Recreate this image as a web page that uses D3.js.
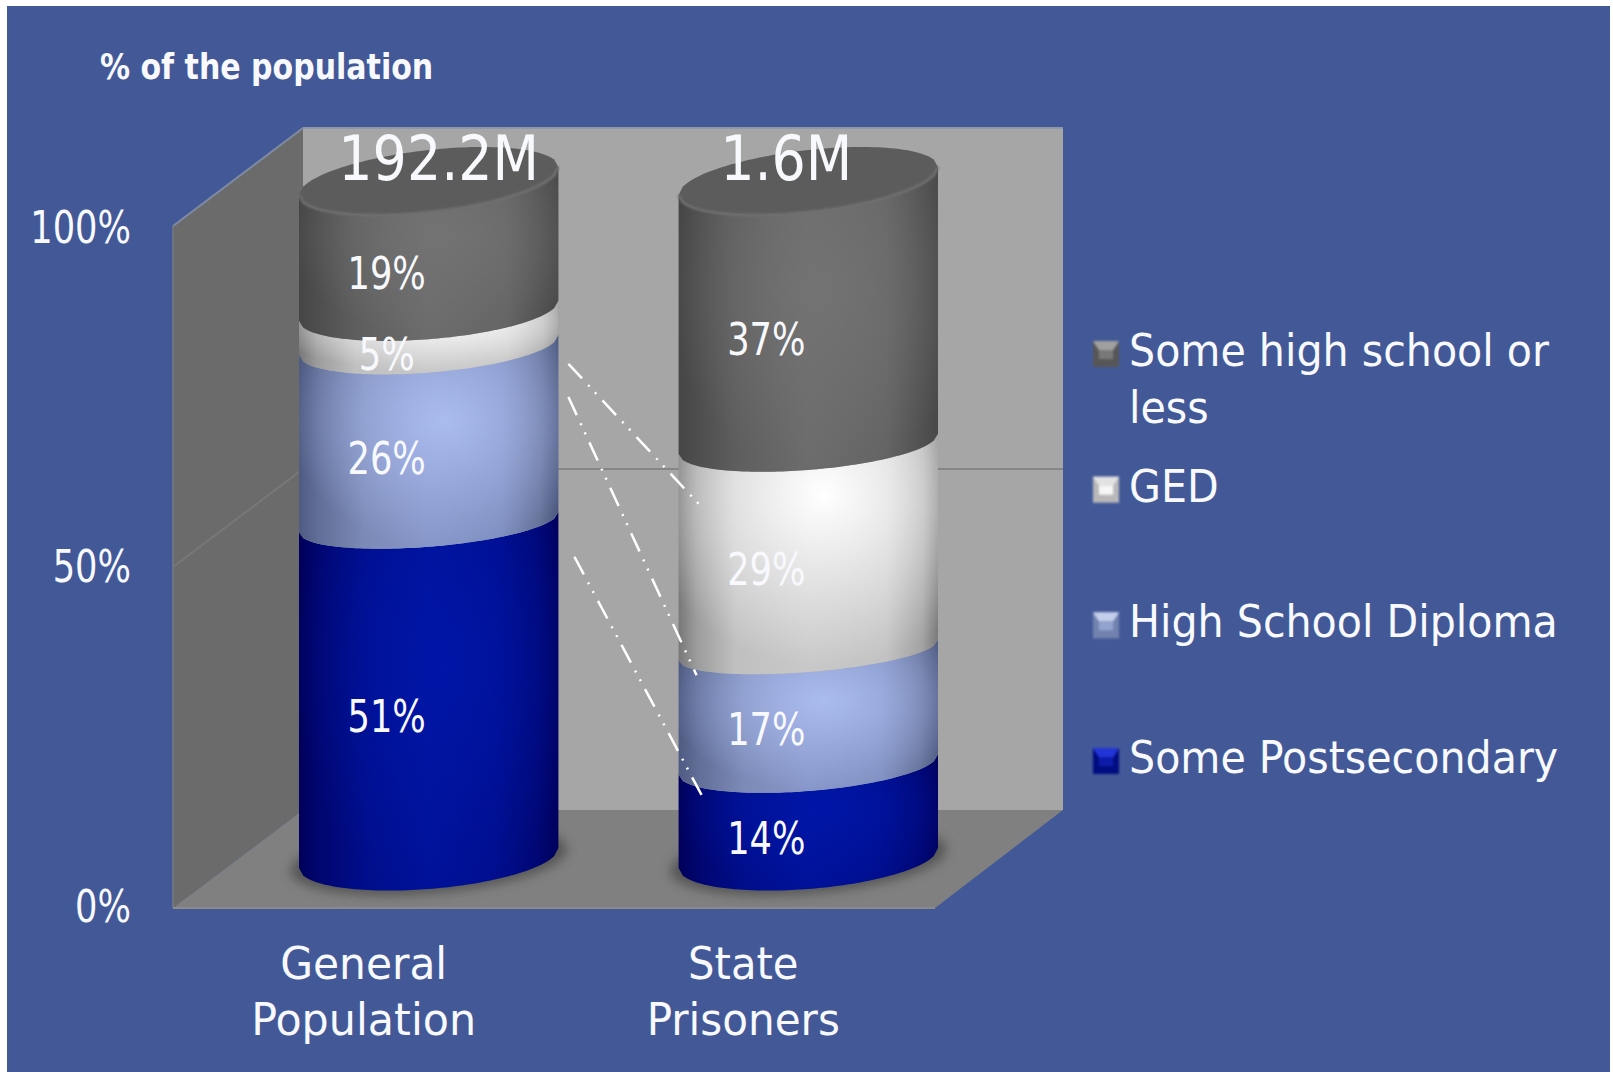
<!DOCTYPE html>
<html><head><meta charset="utf-8">
<script src="https://cdn.jsdelivr.net/npm/d3@7"></script>
<style>
html,body{margin:0;padding:0;background:#fff;}
svg{display:block;}
text{font-family:"DejaVu Sans Condensed","DejaVu Sans",sans-serif;fill:#f8f9fd;}
</style></head><body>
<svg id="chart" width="1613" height="1072"></svg>
<script>
// Education level of the general population and of state prisoners
const categories = [["General","Population"],["State","Prisoners"]];
const populations = ["192.2M","1.6M"];
const seriesNames = ["Some Postsecondary","High School Diploma","GED","Some high school or less"];
const somePostsecondary = [51,14];
const highSchoolDiploma = [26,17];
const ged = [5,29];
const someHighSchool = [19,37];
const yTicks = [0,50,100];
const legendOrder = [3,2,1,0];
const axisTitle = "% of the population";
// Dash-dot guide lines between the two columns, in shares of the column height
const guideFrom = [0.730,0.681,0.445];
const guideTo = [0.520,0.270,0.093];

const W=1613,H=1072;
const svg=d3.select("#chart");
const defs=svg.append("defs");
const rows=categories.map((c,i)=>({i,0:somePostsecondary[i],1:highSchoolDiploma[i],2:ged[i],3:someHighSchool[i]}));
const stacked=d3.stack().keys([0,1,2,3]).offset(d3.stackOffsetExpand)(rows);

// Squeeze or widen a text run horizontally to suit the typeface
const fit=(sel,factor)=>sel.each(function(){
  this.setAttribute("lengthAdjust","spacingAndGlyphs");
  this.setAttribute("textLength",this.getComputedTextLength()*factor);
});

// Frame geometry
const plotL=173,backL=303,plotR=935,backR=1063;
const yFront=d3.scaleLinear().domain([0,100]).range([908,226]);
const yBack=d3.scaleLinear().domain([0,100]).range([810,128]);
const yTickLabel=d3.scaleLinear().domain([0,100]).range([906,227]);
const share=d3.scaleLinear().domain([0,1]).range([858,181]);
const x=d3.scaleBand().domain(d3.range(categories.length)).range([299,938]).paddingInner(120/379).paddingOuter(0);
const rx=x.bandwidth()/2, ry=31;
// Perspective: rims flatten towards eye level, about a third of the way up
const ryAt=v=>v>.3?22+9*(v-.3)/.7:22+9*(.3-v)/.3;
const tiltAt=v=>v>.9?.108:20/258;

// Page background
svg.append("rect").attr("x",7).attr("y",6).attr("width",W-10).attr("height",H-6).attr("fill","#435997");

// Shading for the column sides
const shades=[
 {edge:[["0","#00005a"],[".08","#000670"],[".26","#000e8c"],[".5","#001299"],[".76","#000e8e"],[".92","#000774"],["1","#00005c"]],glow:"#0018ae",op:.7,r:.6},
 {edge:[["0","#4f5b82"],[".08","#626f98"],[".25","#7b8ab6"],[".5","#8796c8"],[".78","#7e8ebf"],[".93","#667399"],["1","#4c587f"]],glow:"#aabbee",op:1,r:.6},
 {edge:[["0","#787878"],[".07","#9c9c9c"],[".22","#c0c0c0"],[".5","#c8c8c8"],[".8","#c2c2c2"],[".94","#a2a2a2"],["1","#7a7a7a"]],glow:"#ffffff",op:1,r:.72},
 {edge:[["0","#464646"],[".22","#5e5e5e"],[".5","#6c6c6c"],[".8","#646464"],["1","#484848"]],glow:"#757575",op:.8,r:.6}
];
shades.forEach((s,k)=>{
  const g=defs.append("linearGradient").attr("id","side"+k);
  s.edge.forEach(e=>g.append("stop").attr("offset",e[0]).attr("stop-color",e[1]));
  const r=defs.append("radialGradient").attr("id","glow"+k).attr("cx",.56).attr("cy",k===2?.25:.4).attr("r",s.r);
  r.append("stop").attr("offset",0).attr("stop-color",s.glow).attr("stop-opacity",s.op);
  r.append("stop").attr("offset",1).attr("stop-color",s.glow).attr("stop-opacity",0);
});
defs.append("filter").attr("id","soft").attr("x","-20%").attr("y","-50%").attr("width","140%").attr("height","200%")
  .append("feGaussianBlur").attr("stdDeviation",5);
defs.append("filter").attr("id","faint").attr("x","-10%").attr("y","-30%").attr("width","120%").attr("height","160%")
  .append("feGaussianBlur").attr("stdDeviation",.8);

// Walls and floor
const poly=p=>"M"+p.map(d=>d.join(",")).join("L")+"Z";
svg.append("path").attr("d",poly([[backL,yBack(100)],[backR,yBack(100)],[backR,yBack(0)],[backL,yBack(0)]])).attr("fill","#a6a6a6");
svg.append("path").attr("d",poly([[plotL,yFront(100)],[backL,yBack(100)],[backL,yBack(0)],[plotL,yFront(0)]])).attr("fill","#6b6b6b");
svg.append("path").attr("d",poly([[plotL,yFront(0)],[backL,yBack(0)],[backR,yBack(0)],[plotR,yFront(0)]])).attr("fill","#808080");
svg.append("line").attr("x1",backL).attr("x2",backR).attr("y1",yBack(100)).attr("y2",yBack(100)).attr("stroke","#8f97ab").attr("stroke-width",2);
svg.append("line").attr("x1",plotL).attr("x2",backL).attr("y1",yFront(100)).attr("y2",yBack(100)).attr("stroke","#7f8aa3").attr("stroke-width",2);
svg.append("line").attr("x1",plotL).attr("x2",plotL).attr("y1",yFront(100)).attr("y2",yFront(0)).attr("stroke","#777a80").attr("stroke-width",1.5);
svg.append("line").attr("x1",plotL).attr("x2",plotR).attr("y1",yFront(0)).attr("y2",yFront(0)).attr("stroke","#8b8b8b").attr("stroke-width",2);
svg.append("line").attr("x1",plotL).attr("x2",backL).attr("y1",yFront(50)).attr("y2",yBack(50)).attr("stroke","#787878").attr("stroke-width",2);
svg.append("line").attr("x1",backL).attr("x2",backR).attr("y1",yBack(50)).attr("y2",yBack(50)).attr("stroke","#868686").attr("stroke-width",2);

// One rim of a column: half of a slightly tilted ellipse whose lowest point follows the share scale
const rim=(i,v,radius)=>{
  const c=x(i)+rx, r=ryAt(v), cy=share(v)+.94*(ry-r), t=tiltAt(v), rr=radius===undefined?r:radius;
  return d3.range(0,61).map(n=>{
    const px=x(i)+x.bandwidth()*n/60, u=(px-c)/rx;
    return [px, cy-t*(px-c)+rr*Math.sqrt(Math.max(0,1-u*u))];
  });
};
const line=d3.line();
const segmentPath=(i,v0,v1)=>line(rim(i,v1).concat(rim(i,v0).reverse()))+"Z";

// Floor shadow under each column
categories.forEach((c,i)=>{
  const pts=rim(i,0).concat(rim(i,0,-ryAt(0)).reverse());
  svg.append("path").attr("d",line(pts)+"Z")
    .attr("transform",`translate(${x(i)+rx},${share(0)+2}) scale(1.07,1.08) translate(${-(x(i)+rx)},${-share(0)})`)
    .attr("fill","#4c4c4c").attr("opacity",.8).attr("filter","url(#soft)");
});

// Stacked columns
stacked.forEach((layer,k)=>{
  const g=svg.append("g");
  layer.forEach((d,i)=>{
    g.append("path").attr("d",segmentPath(i,d[0],d[1])).attr("fill",`url(#side${k})`);
    g.append("path").attr("d",segmentPath(i,d[0],d[1])).attr("fill",`url(#glow${k})`);
  });
});
// Column tops
categories.forEach((c,i)=>{
  const front=rim(i,1), back=rim(i,1,-31);
  svg.append("path").attr("d",line(front.concat(back.reverse()))+"Z").attr("fill","#5c5c5c");
  svg.append("path").attr("d",line(front)).attr("fill","none").attr("stroke","#6f6f6f").attr("stroke-width",2.5).attr("filter","url(#faint)");
});

// Dash-dot guide lines
const guideOffsets=[[10,22],[10,18],[16,23]];
guideFrom.forEach((f,n)=>{
  svg.append("line")
    .attr("x1",x(0)+x.bandwidth()+guideOffsets[n][0]).attr("y1",share(f))
    .attr("x2",x(1)+guideOffsets[n][1]).attr("y2",share(guideTo[n]))
    .attr("stroke","#fff").attr("stroke-width",2.5).attr("stroke-dasharray","20 9 2 8 2 9");
});

// Value labels inside each segment
const valueLabels=[somePostsecondary,highSchoolDiploma,ged,someHighSchool];
stacked.forEach((layer,k)=>{
  layer.forEach((d,i)=>{
    svg.append("text").attr("x",x(i)+rx-42).attr("y",share((d[0]+d[1])/2)+ry+13.5)
      .attr("text-anchor","middle").attr("font-size",45)
      .text(valueLabels[k][i]+"%").call(fit,.87);
  });
});

// Population totals over the columns
populations.forEach((p,i)=>{
  svg.append("text").attr("x",x(i)+rx+(i?-22:10)).attr("y",180).attr("text-anchor","middle").attr("font-size",62).text(p).call(fit,.966);
});

// Value axis
const axis=d3.axisLeft(yTickLabel).tickValues(yTicks).tickFormat(d=>d+"%").tickSize(0).tickPadding(42);
const ax=svg.append("g").attr("transform",`translate(${plotL},0)`).call(axis);
ax.select(".domain").remove();
ax.selectAll("text").attr("font-size",45).attr("dy","0.34em").style("font-family",'"DejaVu Sans Condensed","DejaVu Sans",sans-serif').style("fill","#f8f9fd").call(fit,.87);

svg.append("text").attr("x",100).attr("y",79).attr("font-size",35).attr("font-weight","bold").text(axisTitle).call(fit,.953);

// Category labels
const categoryStretch=[[1.046,1.058],[1.03,1.04]];
categories.forEach((c,i)=>{
  c.forEach((t,j)=>{
    svg.append("text").attr("x",x(i)+rx-65).attr("y",979+56*j).attr("text-anchor","middle").attr("font-size",45).text(t).call(fit,categoryStretch[i][j]);
  });
});

// Legend
const legendY=d3.scalePoint().domain(legendOrder).range([341,748]);
const swatchTop=["#2436d8","#c4cfec","#e2e2e2","#a0a0a0"];
const swatchMid=["#0a1aa8","#93a3cf","#f6f6f6","#787878"];
const swatchLow=["#000a80","#7282ae","#b8b8b8","#565656"];
legendOrder.forEach(k=>{
  const y0=legendY(k), s=26, x0=1093, b=6;
  const g=svg.append("g").attr("filter","url(#faint)");
  g.append("rect").attr("x",x0).attr("y",y0).attr("width",s).attr("height",s).attr("fill",swatchLow[k]);
  g.append("path").attr("d",poly([[x0,y0],[x0+s,y0],[x0+s-b,y0+b+3],[x0+b,y0+b+3]])).attr("fill",swatchTop[k]);
  g.append("rect").attr("x",x0+b).attr("y",y0+b+3).attr("width",s-2*b).attr("height",s-2*b-5).attr("fill",swatchMid[k]);
  const name=seriesNames[k];
  const lines=k===3?["Some high school or","less"]:[name];
  lines.forEach((t,j)=>{
    svg.append("text").attr("x",1129).attr("y",y0+25+56.5*j).attr("font-size",45).text(t).call(fit,1.017);
  });
});
</script></body></html>
